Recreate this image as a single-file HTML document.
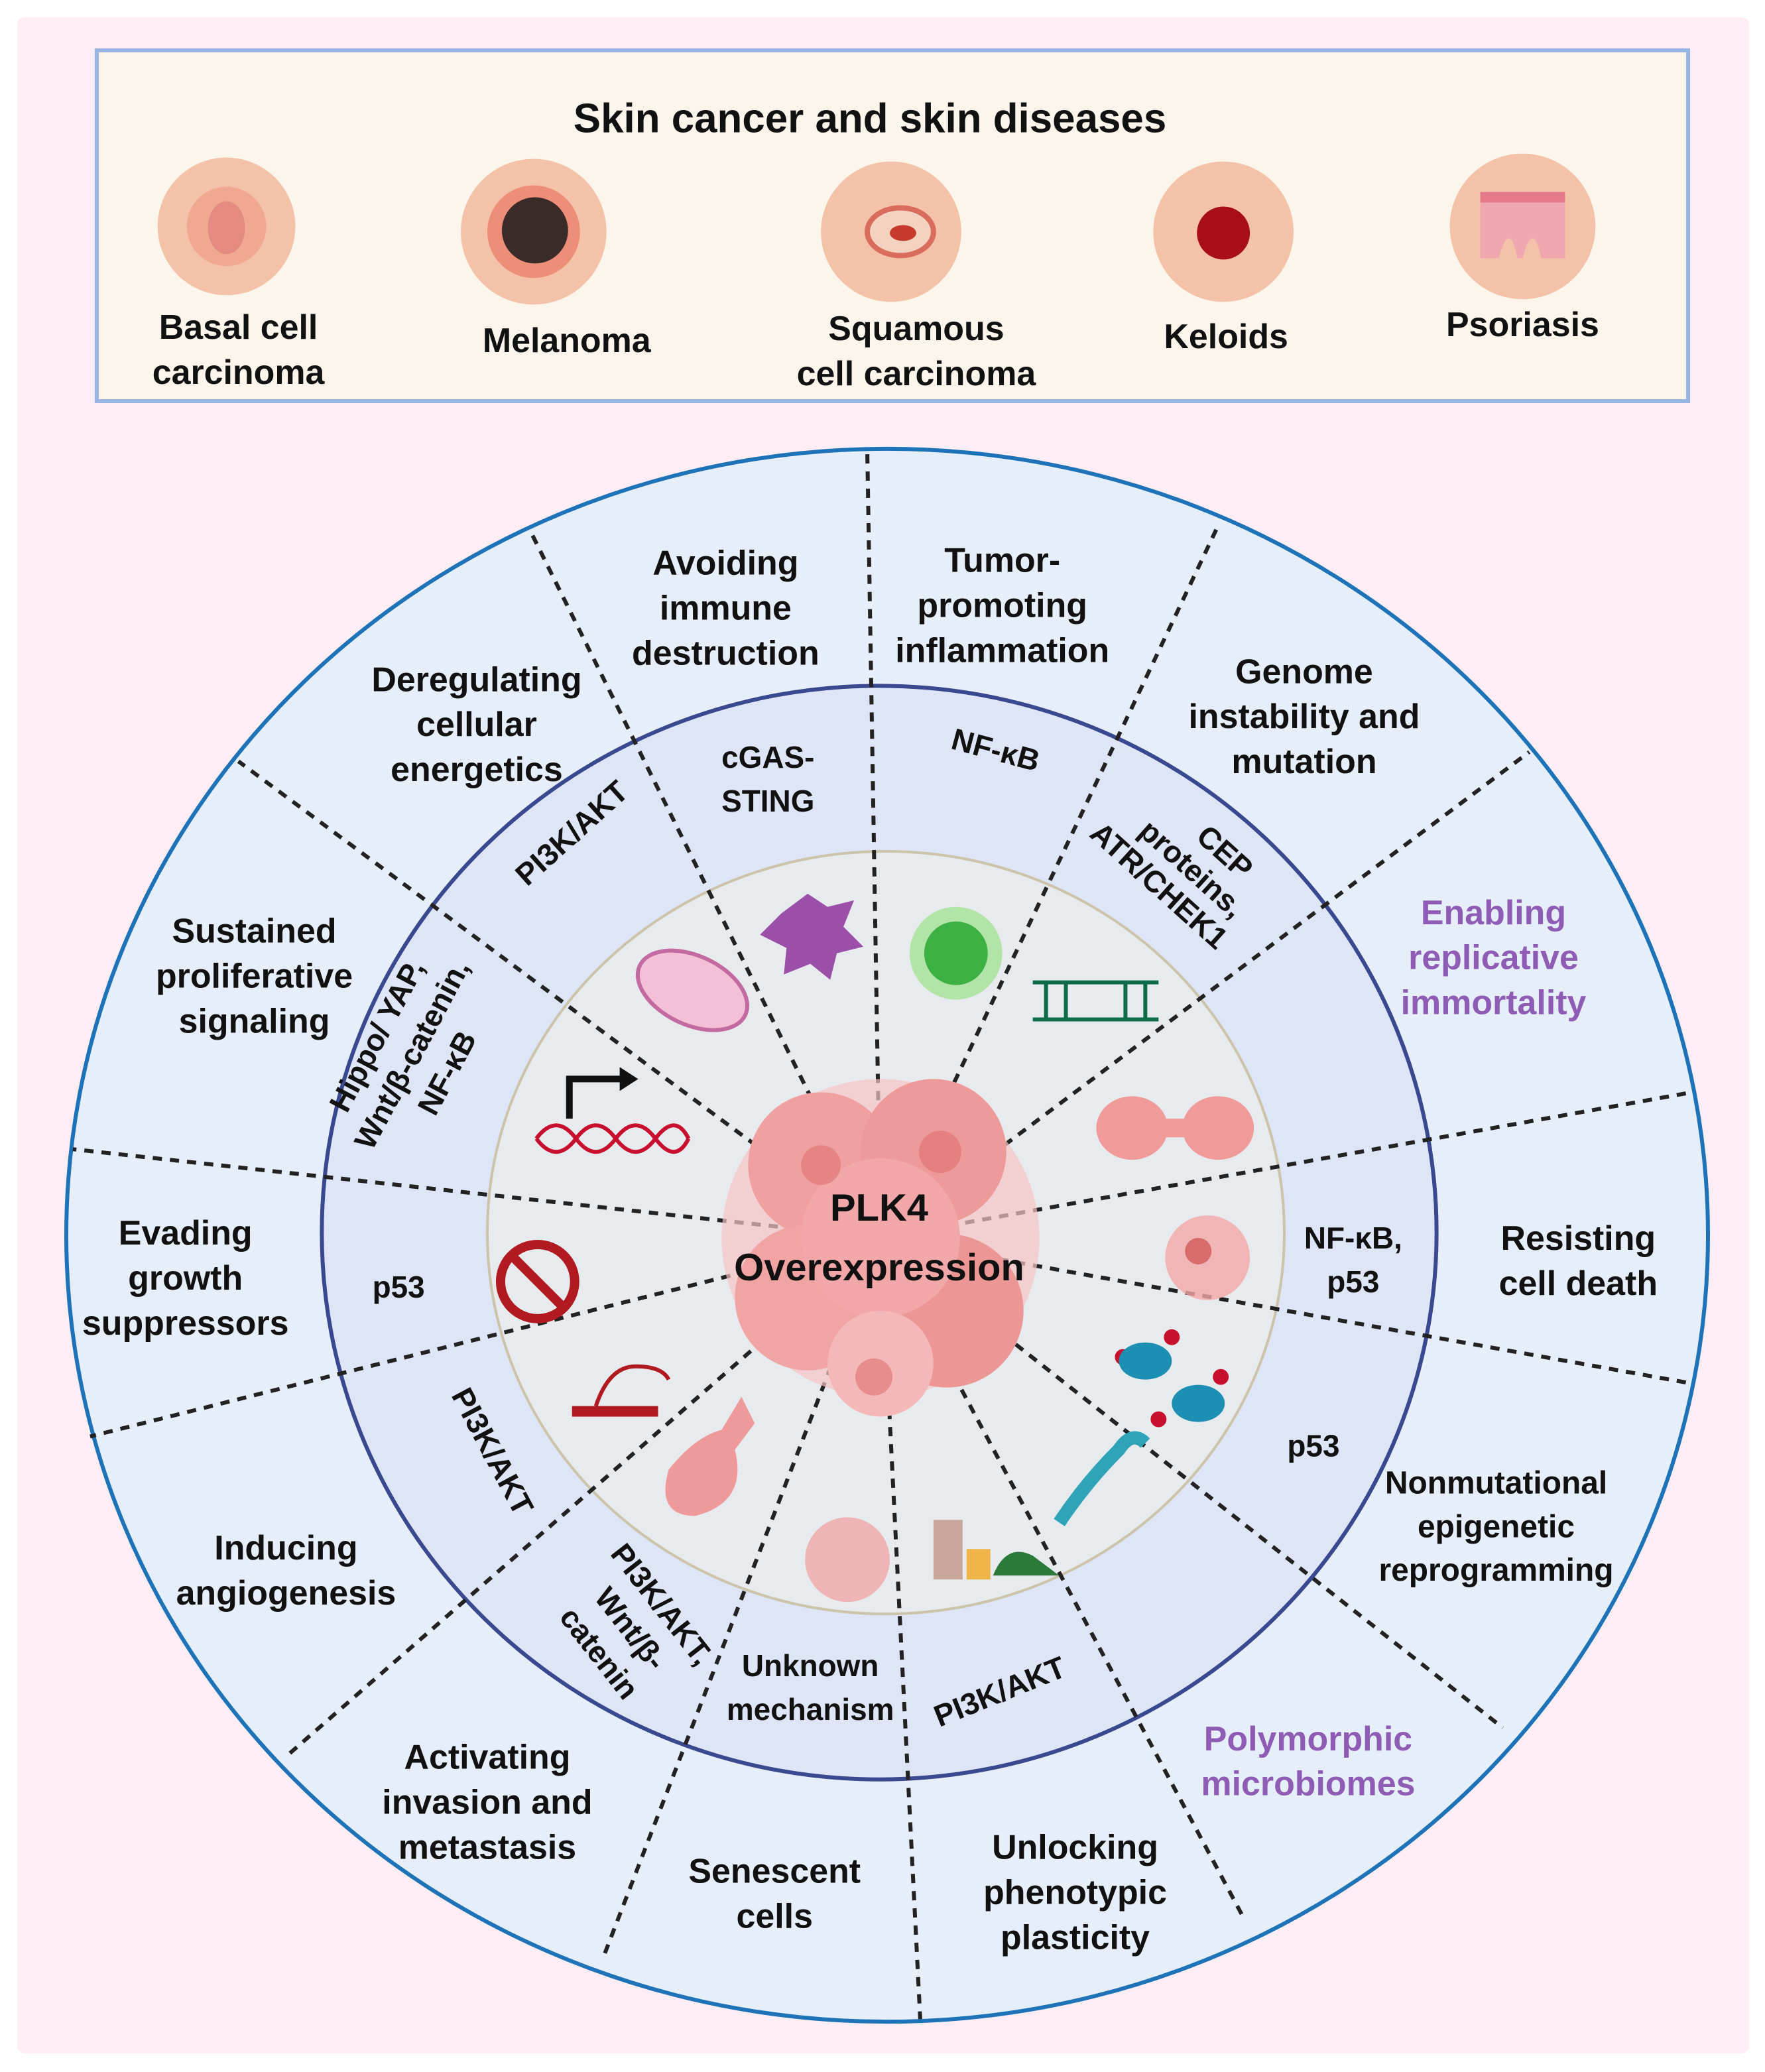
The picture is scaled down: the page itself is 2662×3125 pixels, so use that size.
<!DOCTYPE html>
<html><head><meta charset="utf-8"><style>
html,body{margin:0;padding:0;background:#fff}
svg{display:block}
text{font-family:"Liberation Sans",sans-serif;font-weight:bold;fill:#111}
</style></head><body>
<svg width="2662" height="3125" viewBox="0 0 1333 1565" xmlns="http://www.w3.org/2000/svg">
<rect x="0" y="0" width="1333" height="1565" fill="#fff"/>
<rect x="13" y="13" width="1308" height="1538" rx="6" fill="#fdedf4"/>
<rect x="73" y="38" width="1202" height="265" fill="#fcf5ec" stroke="#98b4e2" stroke-width="3"/>
<text x="657" y="100" font-size="31" text-anchor="middle">Skin cancer and skin diseases</text>
<g>
<circle cx="171" cy="171" r="52" fill="#f4c2a8"/><circle cx="171" cy="171" r="30" fill="#f0a890"/><ellipse cx="171" cy="172" rx="14" ry="20" fill="#e48a80"/>
<circle cx="403" cy="175" r="55" fill="#f4c2a8"/><circle cx="403" cy="175" r="35" fill="#e86a5a" opacity="0.6"/><circle cx="404" cy="174" r="25" fill="#3a2a28"/>
<circle cx="673" cy="175" r="53" fill="#f4c2a8"/><ellipse cx="680" cy="175" rx="25" ry="18" fill="#f3d2c0" stroke="#d96c5c" stroke-width="4"/><ellipse cx="682" cy="176" rx="10" ry="6" fill="#c83a2e"/>
<circle cx="924" cy="175" r="53" fill="#f4c2a8"/><circle cx="924" cy="176" r="20" fill="#a80e1a"/>
<circle cx="1150" cy="171" r="55" fill="#f4c2a8"/><path d="M1118 150 h64 v45 h-18 q-6-30 -14 0 h-4 q-6-30 -14 0 h-14z" fill="#f0a8b0"/><rect x="1118" y="145" width="64" height="8" fill="#e47a8a"/>
</g>
<g font-size="26" text-anchor="middle">
<text x="180" y="256">Basal cell</text><text x="180" y="290">carcinoma</text>
<text x="428" y="266">Melanoma</text>
<text x="692" y="257">Squamous</text><text x="692" y="291">cell carcinoma</text>
<text x="926" y="263">Keloids</text>
<text x="1150" y="254">Psoriasis</text>
</g>
<ellipse cx="670" cy="933" rx="620" ry="594" fill="#e6eef9" stroke="#1e72b8" stroke-width="3"/>
<ellipse cx="664" cy="931" rx="421" ry="413" fill="#dde5f6" stroke="#3a4890" stroke-width="3"/>
<ellipse cx="669" cy="931" rx="301" ry="288" fill="#e8ebee" stroke="#cbc4aa" stroke-width="2"/>
<g stroke="#222" stroke-width="3" stroke-dasharray="7,6" fill="none">
<line x1="665" y1="935" x2="400" y2="400"/>
<line x1="665" y1="935" x2="655" y2="340"/>
<line x1="665" y1="935" x2="920" y2="397"/>
<line x1="665" y1="935" x2="1155" y2="568"/>
<line x1="665" y1="935" x2="1278" y2="825"/>
<line x1="665" y1="935" x2="1278" y2="1045"/>
<line x1="665" y1="935" x2="1135" y2="1305"/>
<line x1="665" y1="935" x2="940" y2="1450"/>
<line x1="665" y1="935" x2="695" y2="1525"/>
<line x1="665" y1="935" x2="455" y2="1480"/>
<line x1="665" y1="935" x2="218" y2="1325"/>
<line x1="665" y1="935" x2="68" y2="1085"/>
<line x1="665" y1="935" x2="55" y2="868"/>
<line x1="665" y1="935" x2="180" y2="575"/>
</g>
<g>
<circle cx="665" cy="935" r="120" fill="#f6c4c4" opacity="0.7"/>
<circle cx="620" cy="880" r="55" fill="#f0a0a0"/><circle cx="705" cy="870" r="55" fill="#ee9a9a"/>
<circle cx="610" cy="980" r="55" fill="#f0a4a4"/><circle cx="715" cy="990" r="58" fill="#ec9696"/>
<circle cx="665" cy="935" r="60" fill="#f2a8a8"/><circle cx="665" cy="1030" r="40" fill="#f4b8b8"/>
<circle cx="660" cy="1040" r="14" fill="#e07070" opacity="0.6"/><circle cx="710" cy="870" r="16" fill="#e07070" opacity="0.6"/><circle cx="620" cy="880" r="15" fill="#e07070" opacity="0.6"/>
</g>
<text x="664" y="922" font-size="29" text-anchor="middle">PLK4</text>
<text x="664" y="967" font-size="29" text-anchor="middle">Overexpression</text>
<ellipse cx="523" cy="748" rx="44" ry="26" transform="rotate(25 523 748)" fill="#f4c0d8" stroke="#c36aa0" stroke-width="3"/>
<path d="M590 690 l20-15 l15 10 l20-5 l-8 20 l15 15 l-20 5 l-5 20 l-15-12 l-20 8 l2-20 l-20-10z" fill="#9b4fa8"/>
<circle cx="722" cy="720" r="35" fill="#8ee07a" opacity="0.6"/><circle cx="722" cy="720" r="24" fill="#3cb043"/>
<g stroke="#0d6b4a" stroke-width="3"><line x1="780" y1="742" x2="875" y2="742"/><line x1="780" y1="770" x2="875" y2="770"/><line x1="790" y1="742" x2="790" y2="770"/><line x1="805" y1="742" x2="805" y2="770"/><line x1="850" y1="742" x2="850" y2="770"/><line x1="865" y1="742" x2="865" y2="770"/></g>
<ellipse cx="855" cy="852" rx="27" ry="24" fill="#f09a9a"/><ellipse cx="920" cy="852" rx="27" ry="24" fill="#f09a9a"/><rect x="870" y="845" width="35" height="14" fill="#f09a9a"/>
<circle cx="912" cy="950" r="32" fill="#f2a8a8" opacity="0.8"/><circle cx="905" cy="945" r="10" fill="#d86b6b"/>
<g fill="#c8102e"><circle cx="885" cy="1010" r="6"/><circle cx="848" cy="1025" r="6"/><circle cx="875" cy="1072" r="6"/><circle cx="922" cy="1040" r="6"/></g>
<ellipse cx="865" cy="1028" rx="20" ry="14" fill="#1d8fb3"/><ellipse cx="905" cy="1060" rx="20" ry="14" fill="#1d8fb3"/>
<path d="M800 1150 q20-30 45-55 q10-15 20-5" stroke="#2fa3b8" stroke-width="10" fill="none"/>
<rect x="705" y="1148" width="22" height="45" fill="#c9a69a"/><rect x="730" y="1170" width="18" height="23" fill="#f0b54a"/><path d="M750 1190 q10-25 30-15 l20 15z" fill="#2c7a3a"/>
<circle cx="640" cy="1178" r="32" fill="#f0a8a8" opacity="0.8"/>
<path d="M505 1110 q20-25 40-30 l15-25 l10 20 l-15 20 q10 40 -30 50 q-30 0 -20-35z" fill="#ee9a9a"/>
<rect x="432" y="1062" width="65" height="8" fill="#b01a20"/><path d="M450 1062 q10-30 30-30 q20 0 25 10" stroke="#b01a20" stroke-width="3" fill="none"/>
<circle cx="406" cy="968" r="28" fill="none" stroke="#b01a20" stroke-width="7"/><line x1="386" y1="948" x2="426" y2="988" stroke="#b01a20" stroke-width="7"/>
<path d="M430 845 v-30 h40" stroke="#111" stroke-width="5" fill="none"/><path d="M468 806 l14 9 l-14 9z" fill="#111"/>
<path d="M405 860 q15-20 30 0 t30 0 t30 0 t25 0" stroke="#c8102e" stroke-width="3" fill="none"/><path d="M405 860 q15 20 30 0 t30 0 t30 0 t25 0" stroke="#c8102e" stroke-width="3" fill="none"/>
<g font-size="26" text-anchor="middle">
<text x="548" y="434">Avoiding</text><text x="548" y="468">immune</text><text x="548" y="502">destruction</text>
<text x="757" y="432">Tumor-</text><text x="757" y="466">promoting</text><text x="757" y="500">inflammation</text>
<text x="360" y="522">Deregulating</text><text x="360" y="556">cellular</text><text x="360" y="590">energetics</text>
<text x="985" y="516">Genome</text><text x="985" y="550">instability and</text><text x="985" y="584">mutation</text>
<text x="1128" y="698" style="fill:#8e5bb5">Enabling</text><text x="1128" y="732" style="fill:#8e5bb5">replicative</text><text x="1128" y="766" style="fill:#8e5bb5">immortality</text>
<text x="192" y="712">Sustained</text><text x="192" y="746">proliferative</text><text x="192" y="780">signaling</text>
<text x="140" y="940">Evading</text><text x="140" y="974">growth</text><text x="140" y="1008">suppressors</text>
<text x="1192" y="944">Resisting</text><text x="1192" y="978">cell death</text>
<text x="1130" y="1128" font-size="24">Nonmutational</text><text x="1130" y="1161" font-size="24">epigenetic</text><text x="1130" y="1194" font-size="24">reprogramming</text>
<text x="216" y="1178">Inducing</text><text x="216" y="1212">angiogenesis</text>
<text x="988" y="1322" style="fill:#8e5bb5">Polymorphic</text><text x="988" y="1356" style="fill:#8e5bb5">microbiomes</text>
<text x="368" y="1336">Activating</text><text x="368" y="1370">invasion and</text><text x="368" y="1404">metastasis</text>
<text x="585" y="1422">Senescent</text><text x="585" y="1456">cells</text>
<text x="812" y="1404">Unlocking</text><text x="812" y="1438">phenotypic</text><text x="812" y="1472">plasticity</text>
</g>
<g font-size="23" text-anchor="middle">
<text x="580" y="580">cGAS-</text><text x="580" y="613">STING</text>
<text x="750" y="574" transform="rotate(15 750 574)">NF-κB</text>
<text x="437" y="635" transform="rotate(-42 437 635)">PI3K/AKT</text>
<g transform="rotate(42 895 662)"><text x="905" y="636">CEP</text><text x="895" y="662">proteins,</text><text x="885" y="688">ATR/CHEK1</text></g>
<g transform="rotate(-62 318 800)"><text x="318" y="770">Hippo/ YAP,</text><text x="318" y="800">Wnt/β-catenin,</text><text x="318" y="830">NF-κB</text></g>
<text x="301" y="980">p53</text>
<text x="1022" y="943">NF-κB,</text><text x="1022" y="976">p53</text>
<text x="992" y="1100">p53</text>
<text x="365" y="1100" transform="rotate(62 365 1100)">PI3K/AKT</text>
<g transform="rotate(52 470 1235)"><text x="470" y="1205">PI3K/AKT,</text><text x="470" y="1235">Wnt/β-</text><text x="470" y="1265">catenin</text></g>
<text x="612" y="1266">Unknown</text><text x="612" y="1299">mechanism</text>
<text x="758" y="1285" transform="rotate(-22 758 1285)">PI3K/AKT</text>
</g>
</svg>
</body></html>
